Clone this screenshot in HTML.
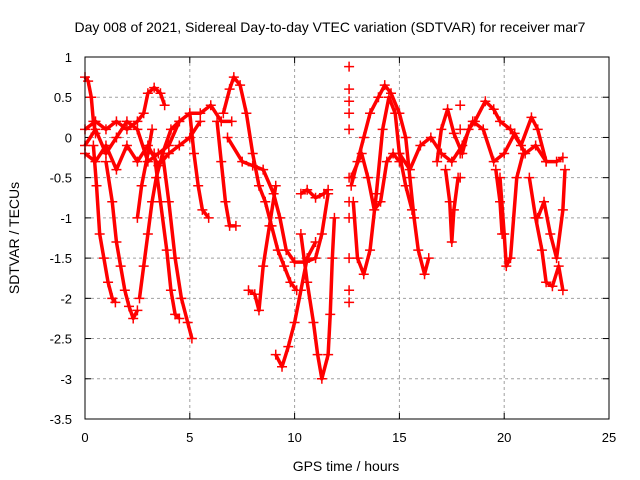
<!DOCTYPE html>
<html><head><meta charset="utf-8"><style>
body{margin:0;background:#fff;}
svg{display:block;font-family:"Liberation Sans",sans-serif;}
</style></head><body>
<svg id="chart" width="640" height="480">
<text x="330" y="32" font-size="14" text-anchor="middle">Day 008 of 2021, Sidereal Day-to-day VTEC variation (SDTVAR) for receiver mar7</text>
<text x="346" y="471" font-size="14" text-anchor="middle">GPS time / hours</text>
<text transform="translate(19,238) rotate(-90)" font-size="14" text-anchor="middle">SDTVAR / TECUs</text>
<g id="grid"></g><g id="ticks"></g><g id="marks"></g>
<rect x="85" y="57" width="524" height="362" fill="none" stroke="#000" stroke-width="1"/>
</svg>
<script>
const xTicks=[0,5,10,15,20,25];
const yTicks=[1,0.5,0,-0.5,-1,-1.5,-2,-2.5,-3,-3.5];
const tracks=[
[[0,0.75],[0.15,0.7],[0.3,0.5],[0.4,0.2],[0.5,0.05]],
[[0,-0.1],[0.5,0.1],[1,-0.2],[1.5,0],[2,0.2],[2.5,0.1],[3,-0.3],[3.5,-0.2],[4,-0.1],[4.5,0.2],[5,0.3],[5.5,0.3],[6,0.4],[6.5,0.2],[7,0.2]],
[[0,0.1],[0.5,0.2],[1,0.1],[1.5,0.2],[2,0.1],[2.5,0.2],[2.8,0.3],[3,0.55],[3.3,0.62],[3.6,0.55],[3.8,0.4]],
[[0,-0.2],[0.5,-0.3],[1,-0.1],[1.5,-0.4],[2,-0.1],[2.5,-0.3],[3,-0.1],[3.5,-0.35],[4,-0.2],[4.5,-0.1],[5,0],[5.5,0.2]],
[[0.4,-0.1],[0.55,-0.6],[0.7,-1.2],[0.9,-1.5],[1.1,-1.8],[1.3,-2.0],[1.45,-2.05]],
[[1.0,-0.3],[1.3,-0.8],[1.5,-1.3],[1.7,-1.6],[1.9,-1.9],[2.1,-2.1],[2.3,-2.25],[2.5,-2.15]],
[[2.6,-2.0],[2.8,-1.6],[3.0,-1.2],[3.2,-0.8],[3.4,-0.5],[3.7,-0.2],[4.1,0.1],[4.5,0.2]],
[[3.3,-0.2],[3.6,-0.8],[3.9,-1.4],[4.1,-1.9],[4.3,-2.2],[4.5,-2.25]],
[[3.7,-0.2],[4.0,-0.8],[4.3,-1.5],[4.6,-2.0],[4.9,-2.3],[5.1,-2.5]],
[[2.5,-1.0],[2.7,-0.6],[3.0,-0.2],[3.2,0.1]],
[[5.0,0.3],[5.2,-0.2],[5.4,-0.6],[5.6,-0.9],[5.9,-1.0]],
[[6.3,0.2],[6.5,-0.3],[6.7,-0.8],[6.9,-1.1],[7.2,-1.1]],
[[6.6,0.3],[6.9,0.6],[7.1,0.75],[7.4,0.65],[7.7,0.3],[8.0,-0.2],[8.3,-0.6],[8.6,-0.8],[8.9,-1.1],[9.2,-1.4],[9.5,-1.6],[9.8,-1.8],[10.1,-1.9]],
[[6.8,0],[7.5,-0.3],[8,-0.35],[8.5,-0.4],[9,-0.7],[9.3,-1.0],[9.6,-1.4],[10,-1.55],[10.5,-1.55],[11,-1.5],[11.3,-1.2],[11.6,-0.7]],
[[10.3,-0.7],[10.6,-0.65],[11,-0.75],[11.4,-0.7],[11.6,-0.65]],
[[7.8,-1.9],[8.1,-1.95],[8.3,-2.15],[8.5,-1.6],[8.8,-1.1],[9.1,-0.6]],
[[9.1,-2.7],[9.4,-2.85],[9.7,-2.6],[10,-2.3],[10.3,-1.9],[10.6,-1.5],[11,-1.3]],
[[10.3,-1.2],[10.6,-1.8],[10.9,-2.3],[11.1,-2.7],[11.3,-3.0],[11.6,-2.7],[11.7,-2.2],[11.8,-1.5],[11.9,-1.0]],
[[12.6,0.88],[12.6,0.6],[12.6,0.45],[12.6,0.3],[12.6,0.1],[12.6,-0.5],[12.6,-0.8],[12.6,-1.0],[12.6,-1.5],[12.6,-1.9],[12.6,-2.05]],
[[12.7,-0.6],[13,-0.3],[13.3,0],[13.6,0.3],[14,0.5],[14.3,0.65],[14.6,0.55],[15,0.3],[15.3,0],[15.5,-0.5],[15.7,-1.0],[15.9,-1.4],[16.2,-1.7],[16.4,-1.5]],
[[12.8,-0.8],[13,-1.5],[13.3,-1.7],[13.6,-1.4],[13.9,-0.7],[14.2,0.1],[14.5,0.5],[14.8,0.3],[15.0,-0.2],[15.3,-0.6],[15.6,-0.9]],
[[12.7,-0.5],[13.2,-0.2],[13.5,-0.5],[13.8,-0.9],[14.1,-0.8],[14.4,-0.3],[14.7,-0.2],[15,-0.3]],
[[15,-0.2],[15.5,-0.4],[16,-0.1],[16.5,0],[17,-0.2],[17.5,-0.3],[18,-0.1],[18.5,0.2],[19,0.1],[19.5,-0.3],[20,-0.2],[20.5,0.05],[21,-0.2],[21.5,-0.1],[22,-0.3],[22.5,-0.3],[22.8,-0.25]],
[[16.8,-0.3],[17,0.1],[17.3,0.35],[17.6,0.05],[18,-0.2],[18.3,0.1],[18.6,0.2],[19.1,0.45],[19.5,0.35],[19.8,0.2],[20.3,0.1],[20.8,-0.1],[21.3,0.25],[21.6,0.1],[22,-0.3]],
[[17.2,-0.4],[17.4,-0.8],[17.5,-1.3],[17.6,-0.9],[17.8,-0.5]],
[[17.9,0.4],[17.9,0.1],[17.9,-0.2],[17.9,-0.5]],
[[19.8,-0.5],[20,-1.2],[20.1,-1.6],[20.3,-1.5],[20.6,-0.5],[20.9,-0.2]],
[[21.2,-0.5],[21.5,-1.0],[21.8,-1.4],[22,-1.8],[22.3,-1.85],[22.6,-1.6],[22.8,-1.9]],
[[21.6,-1.0],[21.9,-0.8],[22.2,-1.2],[22.5,-1.5],[22.8,-0.9],[22.9,-0.4]],
[[19.6,-0.4],[19.8,-0.8],[19.9,-1.2]]
];
const X=h=>85+h*(524/25);
const Y=v=>57+(1-v)*(362/4.5);
const NS="http://www.w3.org/2000/svg";
const grid=document.getElementById('grid'),ticks=document.getElementById('ticks'),marks=document.getElementById('marks');
function mk(t,a,p){const e=document.createElementNS(NS,t);for(const k in a)e.setAttribute(k,a[k]);p.appendChild(e);return e;}
xTicks.forEach(t=>{
 const x=X(t);
 if(t>0&&t<25){const g=mk('line',{x1:x,x2:x,y1:57,y2:419,stroke:'#a0a0a0','stroke-dasharray':'3,3'},grid);
 
 }
 mk('line',{x1:x,x2:x,y1:419,y2:413,stroke:'#000'},ticks);
 mk('line',{x1:x,x2:x,y1:57,y2:63,stroke:'#000'},ticks);
 const l=mk('text',{x:x,y:442,'font-size':13,'text-anchor':'middle'},ticks);l.textContent=t;
 
 
});
yTicks.forEach(t=>{
 const y=Y(t);
 if(t<1&&t>-3.5){const g=mk('line',{x1:85,x2:609,y1:y,y2:y,stroke:'#a0a0a0','stroke-dasharray':'3,3'},grid);
 
 }
 mk('line',{x1:85,x2:91,y1:y,y2:y,stroke:'#000'},ticks);
 mk('line',{x1:609,x2:603,y1:y,y2:y,stroke:'#000'},ticks);
 const l=mk('text',{x:72,y:y+5,'font-size':13,'text-anchor':'end'},ticks);l.textContent=t;
 
 
});
tracks.forEach(tr=>{
 const g=mk('g',{},marks);
 
 
 if(tr[0][0]!==tr[tr.length-1][0]){
  const pl=mk('polyline',{points:tr.map(p=>X(p[0])+','+Y(p[1])).join(' '),fill:'none',stroke:'#f00','stroke-width':3.5,'stroke-linejoin':'round'},g);
  
  
 }
 tr.forEach(p=>{
  const x=X(p[0]),y=Y(p[1]);
  const m=mk('path',{d:`M${x-5},${y}H${x+5}M${x},${y-5}V${y+5}`,stroke:'#f00','stroke-width':1.5},g);
  
  
 });
});
</script>
</body></html>
